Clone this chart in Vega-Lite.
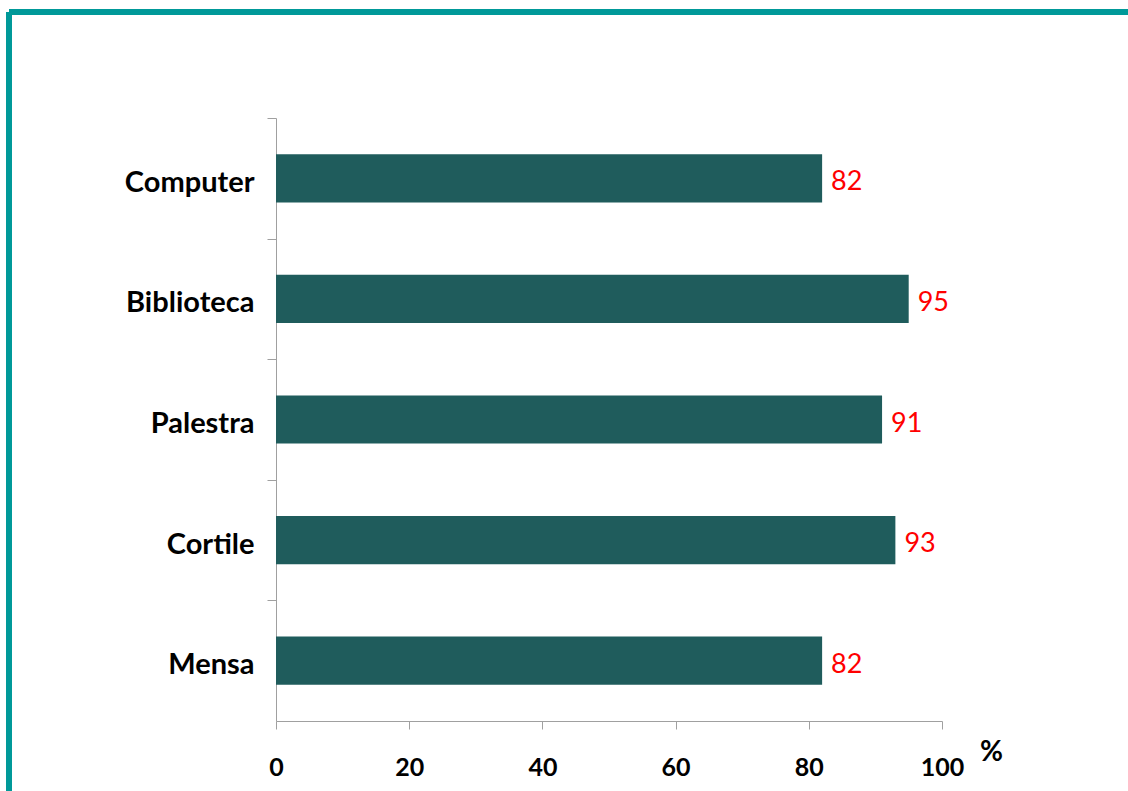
{
  "$schema": "https://vega.github.io/schema/vega-lite/v6.json",
  "width": 1119,
  "height": 779,
  "autosize": "none",
  "padding": {"left": 9, "top": 12, "right": 0, "bottom": 0},
  "background": "white",
  "config": {
    "view": {"stroke": "#009999", "strokeWidth": 6, "strokeDash": [1119, 1898, 779, 0], "fill": "white"},
    "font": "Lato"
  },
  "data": {
    "values": [
      {"item": "Computer", "pct": 82},
      {"item": "Biblioteca", "pct": 95},
      {"item": "Palestra", "pct": 91},
      {"item": "Cortile", "pct": 93},
      {"item": "Mensa", "pct": 82}
    ]
  },
  "encoding": {
    "y": {
      "field": "item",
      "type": "nominal",
      "sort": null,
      "scale": {"range": [106, 709], "paddingInner": 0.6, "paddingOuter": 0.3},
      "axis": {
        "title": null,
        "offset": -267,
        "bandPosition": 0,
        "tickOffset": -36.2,
        "labelOffset": 40.2,
        "tickSize": 9,
        "tickColor": "#A0A0A0",
        "domainColor": "#A0A0A0",
        "labelFont": "Lato",
        "labelFontWeight": "bold",
        "labelFontSize": 29,
        "labelColor": "black",
        "labelPadding": 13
      }
    },
    "x": {
      "field": "pct",
      "type": "quantitative",
      "scale": {"domain": [0, 100], "range": [267, 933], "nice": false},
      "axis": {
        "offset": -70,
        "values": [0, 20, 40, 60, 80, 100],
        "grid": false,
        "labelFlush": false,
        "tickSize": 8,
        "tickColor": "#A0A0A0",
        "domainColor": "#A0A0A0",
        "labelFont": "Lato",
        "labelFontWeight": "bold",
        "labelFontSize": 25,
        "labelColor": "black",
        "labelPadding": 26,
        "title": "%",
        "titleFont": "Lato",
        "titleFontWeight": "bold",
        "titleFontSize": 28,
        "titleColor": "black",
        "titleX": 982,
        "titleY": 31,
        "titleAlign": "center",
        "titleBaseline": "middle",
        "titleAngle": 0
      }
    }
  },
  "layer": [
    {"mark": {"type": "bar", "color": "#1F5C5C"}},
    {
      "mark": {"type": "text", "align": "left", "baseline": "middle", "dx": 9, "dy": 4, "color": "#FF0000", "font": "Lato", "fontSize": 27},
      "encoding": {"text": {"field": "pct", "type": "quantitative"}}
    }
  ]
}
